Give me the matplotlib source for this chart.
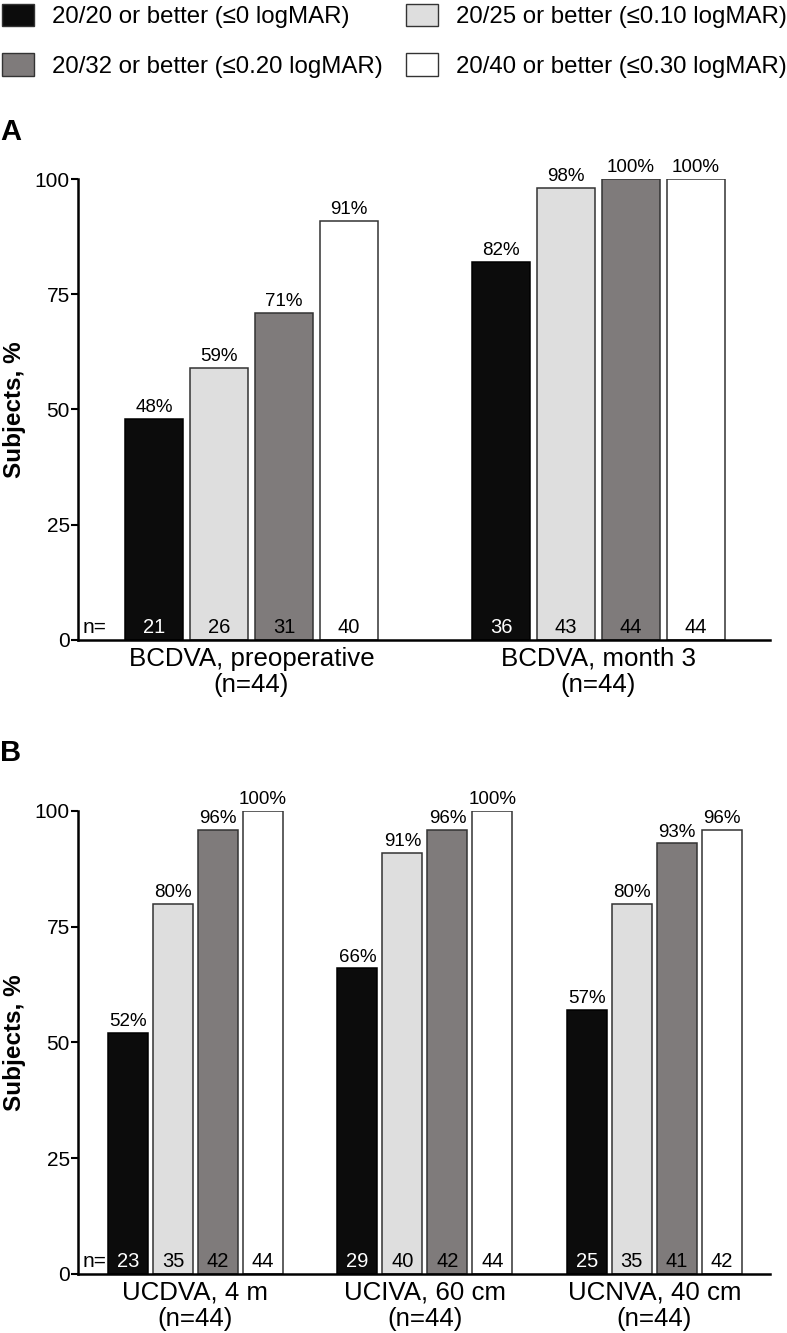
import numpy as np
import matplotlib.pyplot as plt
import matplotlib.transforms as mtransforms
from matplotlib.patches import Patch

plt.rcParams['font.family'] = ['Liberation Sans', 'DejaVu Sans']

# 데이터
thresholds = ['20/20 or better (≤0 logMAR)', '20/25 or better (≤0.10 logMAR)',
              '20/32 or better (≤0.20 logMAR)', '20/40 or better (≤0.30 logMAR)']
colors = ['#0c0c0c', '#dedede', '#7f7b7b', '#ffffff']

cats_a = ['BCDVA, preoperative\n(n=44)', 'BCDVA, month 3\n(n=44)']
pct_a_2020 = [48, 82]
pct_a_2025 = [59, 98]
pct_a_2032 = [71, 100]
pct_a_2040 = [91, 100]
n_a_2020 = [21, 36]
n_a_2025 = [26, 43]
n_a_2032 = [31, 44]
n_a_2040 = [40, 44]

cats_b = ['UCDVA, 4 m\n(n=44)', 'UCIVA, 60 cm\n(n=44)', 'UCNVA, 40 cm\n(n=44)']
pct_b_2020 = [52, 66, 57]
pct_b_2025 = [80, 91, 80]
pct_b_2032 = [96, 96, 93]
pct_b_2040 = [100, 100, 96]
n_b_2020 = [23, 29, 25]
n_b_2025 = [35, 40, 35]
n_b_2032 = [42, 42, 41]
n_b_2040 = [44, 44, 42]


def draw_panel(ax, cats, pcts, ns, group_gap, xlim):
    groups = np.arange(len(cats)) * group_gap
    for k, (vals, nvals) in enumerate(zip(pcts, ns)):
        x = groups + k
        edge = '#000000' if k == 0 else '#333333'
        ax.bar(x, vals, width=0.89, color=colors[k], edgecolor=edge, linewidth=1.1)
        for xi, v, nv in zip(x, vals, nvals):
            ax.annotate(f'{v}%', (xi, v), xytext=(0, 2), textcoords='offset points',
                        ha='center', va='bottom', fontsize=13.5)
            ax.text(xi, 2.6, str(nv), ha='center', va='center', fontsize=14.5,
                    color='white' if k == 0 else 'black')
    trans = mtransforms.blended_transform_factory(ax.transAxes, ax.transData)
    ax.text(0.006, 2.6, 'n=', transform=trans, ha='left', va='center', fontsize=15)

    ax.set_xlim(*xlim)
    ax.set_ylim(0, 100)
    ax.set_yticks([0, 25, 50, 75, 100])
    ax.set_xticks(groups + 1.5)
    ax.set_xticklabels(cats, fontsize=18.6, linespacing=1.1)
    ax.tick_params(axis='x', length=0, pad=5)
    ax.tick_params(axis='y', length=5, width=1.5, labelsize=15, pad=1)
    for s in ['top', 'right']:
        ax.spines[s].set_visible(False)
    ax.spines['left'].set_linewidth(1.8)
    ax.spines['bottom'].set_linewidth(1.8)
    ax.set_ylabel('Subjects, %', fontsize=17.5, fontweight='bold', labelpad=6)


fig = plt.figure(figsize=(7.87, 13.33), dpi=100)

ax_a = fig.add_axes([0.0991, 0.5199, 0.8793, 0.3458])
draw_panel(ax_a, cats_a,
           [pct_a_2020, pct_a_2025, pct_a_2032, pct_a_2040],
           [n_a_2020, n_a_2025, n_a_2032, n_a_2040],
           5.34, (-1.17, 9.48))

ax_b = fig.add_axes([0.0991, 0.0443, 0.8793, 0.3473])
draw_panel(ax_b, cats_b,
           [pct_b_2020, pct_b_2025, pct_b_2032, pct_b_2040],
           [n_b_2020, n_b_2025, n_b_2032, n_b_2040],
           5.1, (-1.11, 14.27))

fig.text(0.0, 1 - 132 / 1333, 'A', fontsize=21, fontweight='bold', va='center', ha='left')
fig.text(0.0, 1 - 753 / 1333, 'B', fontsize=21, fontweight='bold', va='center', ha='left')

# 범례 (열 우선 순서)
order = [0, 2, 1, 3]
handles = [Patch(facecolor=colors[i], edgecolor='#333333', linewidth=1.0) for i in order]
labels = [thresholds[i] for i in order]
fig.legend(handles, labels, loc='upper left', bbox_to_anchor=(0.0, 0.999), ncol=2,
           frameon=False, fontsize=17.3, handlelength=1.3, handleheight=1.05,
           handletextpad=0.75, labelspacing=1.05, columnspacing=1.0,
           borderpad=0.0, borderaxespad=0.1)

fig.savefig('out.png', dpi=100)
